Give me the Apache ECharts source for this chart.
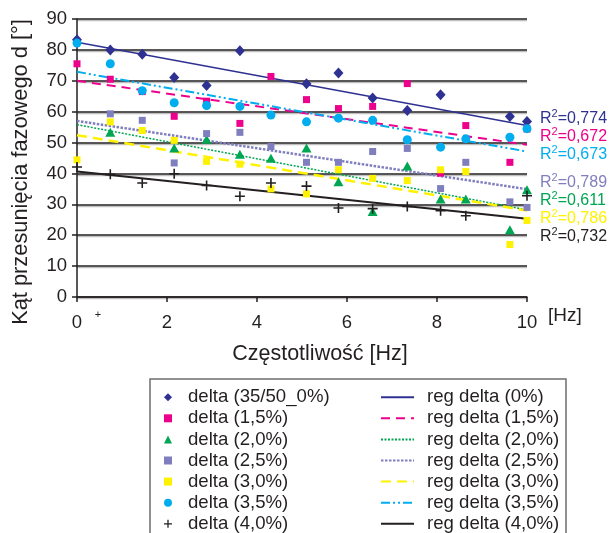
<!DOCTYPE html>
<html>
<head>
<meta charset="utf-8">
<script src="https://cdn.jsdelivr.net/npm/echarts@6/dist/echarts.min.js"></script>
<style>
  html, body { margin: 0; padding: 0; background: #ffffff; }
  #chart { width: 609px; height: 533px; }
</style>
</head>
<body>
<div id="chart"></div>
<script>
// Measurement frequencies [Hz]
const freqs = [0, 0.74, 1.45, 2.16, 2.88, 3.62, 4.31, 5.10, 5.81, 6.57, 7.34, 8.08, 8.64, 9.62, 10.0];

// Phase shift angle d [°] for each mix (null = no measurement)
const delta0   = [83.3, 80.0, 78.6, 71.1, 68.5, 79.7, null, 69.0, 72.5, 64.4, 60.4, 65.5, null, 58.4, 56.8];
const delta15  = [75.5, 70.5, 66.5, 58.5, 63.4, 56.2, 71.4, 63.9, 61.0, 61.7, 69.1, 40.1, 55.5, 43.6, 54.4];
const delta20  = [null, 53.3, null, 48.2, 51.1, 46.2, 44.9, 48.2, 37.3, 27.7, 42.4, 31.7, 31.7, 21.8, 34.7];
const delta25  = [null, 59.3, 57.2, 43.4, 52.9, 53.3, 48.7, 43.6, 43.6, 47.1, 48.1, 35.1, 43.6, 30.8, 29.0];
const delta30  = [44.4, 56.7, 53.9, 50.7, 43.9, 43.0, 35.0, 33.4, 41.2, 38.4, 37.7, 41.2, 40.6, 17.0, 24.8];
const delta35  = [82.2, 75.5, 66.8, 62.9, 62.0, 61.7, 58.9, 56.7, 57.9, 57.2, 50.9, 48.5, 51.2, 51.7, 54.5];
const delta40  = [42.1, 39.7, 36.9, 39.9, 36.1, 32.6, 36.9, 35.9, 28.8, 28.6, 29.3, 27.9, 26.3, null, 32.8];

// Linear trend lines: value at 0 Hz and at 10 Hz
const regStart = [82.5, 70.0, 55.8, 57.0, 52.4, 72.9, 40.6];
const regEnd   = [55.5, 49.3, 28.2, 34.9, 28.0, 47.1, 25.3];
const r2Text   = ['0,774', '0,672', '0,611', '0,789', '0,786', '0,673', '0,732'];

// Axis ticks
const xTicks = [0, 2, 4, 6, 8, 10];
const yTicks = [0, 10, 20, 30, 40, 50, 60, 70, 80, 90];

const pointNames = ['delta (35/50_0%)', 'delta (1,5%)', 'delta (2,0%)', 'delta (2,5%)', 'delta (3,0%)', 'delta (3,5%)', 'delta (4,0%)'];
const regNames   = ['reg delta (0%)', 'reg delta (1,5%)', 'reg delta (2,0%)', 'reg delta (2,5%)', 'reg delta (3,0%)', 'reg delta (3,5%)', 'reg delta (4,0%)'];
const allValues  = [delta0, delta15, delta20, delta25, delta30, delta35, delta40];

const colors = ['#2e3192', '#ec008c', '#00a651', '#7f7fbf', '#fff200', '#00aeef', '#231f20'];
const plusPath = 'path://M4.2,0H5.8V4.2H10V5.8H5.8V10H4.2V5.8H0V4.2H4.2Z';
const symbols = [
  { symbol: 'diamond', size: [10, 11] },
  { symbol: 'rect', size: 7 },
  { symbol: 'triangle', size: [10, 9] },
  { symbol: 'rect', size: 7 },
  { symbol: 'rect', size: 7 },
  { symbol: 'circle', size: 9 },
  { symbol: plusPath, size: 10 }
];
const lineStyles = [
  { width: 1.5, type: 'solid' },
  { width: 2, type: [9, 6] },
  { width: 1.5, type: [2, 1.5] },
  { width: 2.5, type: [2.5, 1.5] },
  { width: 2.5, type: [10, 6] },
  { width: 2, type: [9, 3, 2, 3, 2, 3] },
  { width: 2, type: 'solid' }
];

// Order in which the R² labels are stacked at the right edge
const r2Order = [0, 1, 5, 3, 2, 4, 6];
const r2Y = [116.5, 134.3, 152.5, 180.5, 198.3, 216.5, 234.3];

const FONT = '"Liberation Sans", Arial, Helvetica, sans-serif';
const TXT = '#231f20';

const series = [];
regNames.forEach((name, i) => {
  series.push({
    name: name,
    type: 'line',
    data: [[xTicks[0], regStart[i]], [xTicks[xTicks.length - 1], regEnd[i]]],
    symbol: 'none',
    silent: true,
    z: 2,
    lineStyle: { color: colors[i], width: lineStyles[i].width, type: lineStyles[i].type, cap: 'butt' },
    itemStyle: { color: colors[i] }
  });
});
pointNames.forEach((name, i) => {
  const pts = [];
  freqs.forEach((f, k) => { if (allValues[i][k] != null) pts.push([f, allValues[i][k]]); });
  series.push({
    name: name,
    type: 'scatter',
    data: pts,
    symbol: symbols[i].symbol,
    symbolSize: symbols[i].size,
    z: 3,
    itemStyle: { color: colors[i], opacity: 1 }
  });
});

const graphics = [
  {
    type: 'text', x: 21, y: 172, rotation: Math.PI / 2,
    style: { text: 'Kąt przesunięcia fazowego d [°]', font: '21.8px ' + FONT, fill: TXT, textAlign: 'center', textVerticalAlign: 'middle' }
  },
  {
    type: 'text', x: 320, y: 354,
    style: { text: 'Częstotliwość [Hz]', font: '21.5px ' + FONT, fill: TXT, textAlign: 'center', textVerticalAlign: 'middle' }
  },
  {
    type: 'text', x: 548, y: 316,
    style: { text: '[Hz]', font: '19px ' + FONT, fill: TXT, textAlign: 'left', textVerticalAlign: 'middle' }
  },
  {
    type: 'text', x: 98, y: 315,
    style: { text: '+', font: '11px ' + FONT, fill: TXT, textAlign: 'center', textVerticalAlign: 'middle' }
  },
  {
    type: 'rect', shape: { x: 150, y: 379, width: 416, height: 170 },
    style: { fill: 'none', stroke: '#6d6e71', lineWidth: 1.5 }, z: 0
  }
];
r2Order.forEach((si, row) => {
  graphics.push({
    type: 'text', x: 540, y: r2Y[row] + 1,
    style: {
      text: '{n|R}{s|2}{n|=' + r2Text[si] + '}',
      fill: colors[si], textAlign: 'left', textVerticalAlign: 'middle',
      rich: {
        n: { fontSize: 16, fontFamily: FONT, fill: colors[si], lineHeight: 18, verticalAlign: 'bottom' },
        s: { fontSize: 11, fontFamily: FONT, fill: colors[si], lineHeight: 18, verticalAlign: 'top', padding: [0, 0, 6, 0] }
      }
    }
  });
});

const legendText = { fontSize: 18.6, lineHeight: 18, color: TXT, fontFamily: FONT };

const chart = echarts.init(document.getElementById('chart'), null, { renderer: 'canvas' });
chart.setOption({
  animation: false,
  backgroundColor: '#ffffff',
  textStyle: { fontFamily: FONT },
  grid: { left: 77, top: 19, width: 450, height: 278, containLabel: false },
  xAxis: {
    type: 'value',
    min: xTicks[0], max: xTicks[xTicks.length - 1], interval: xTicks[1] - xTicks[0],
    axisLine: { show: true, onZero: false, lineStyle: { color: '#231f20', width: 1.5 } },
    axisTick: { show: true, inside: false, length: 5, lineStyle: { color: '#231f20', width: 1.5 } },
    axisLabel: { fontSize: 18.5, color: TXT, margin: 16, fontFamily: FONT },
    splitLine: { show: false }
  },
  yAxis: {
    type: 'value',
    min: yTicks[0], max: yTicks[yTicks.length - 1], interval: yTicks[1] - yTicks[0],
    axisLine: { show: true, onZero: false, lineStyle: { color: '#231f20', width: 1.5 } },
    axisTick: { show: true, inside: false, length: 5, lineStyle: { color: '#231f20', width: 1.5 } },
    axisLabel: { fontSize: 18.5, color: TXT, margin: 10, fontFamily: FONT },
    splitLine: { show: true, lineStyle: { color: '#231f20', width: 1.5, shadowColor: 'rgba(0,0,0,0.25)', shadowOffsetY: 1.5, shadowBlur: 0 } }
  },
  legend: [
    {
      data: pointNames, orient: 'vertical', left: 164, top: 387.7, height: 170, padding: 0,
      itemWidth: 8, itemHeight: 8, itemGap: 2.1, selectedMode: false, symbolKeepAspect: true,
      textStyle: Object.assign({ padding: [0, 0, 0, 11] }, legendText)
    },
    {
      data: regNames, orient: 'vertical', left: 380, top: 387.7, height: 170, padding: 0,
      itemWidth: 33, itemHeight: 8, itemGap: 2.1, selectedMode: false,
      itemStyle: { opacity: 0 },
      textStyle: Object.assign({ padding: [0, 0, 0, 8] }, legendText)
    }
  ],
  graphic: graphics,
  series: series
});
</script>
</body>
</html>
